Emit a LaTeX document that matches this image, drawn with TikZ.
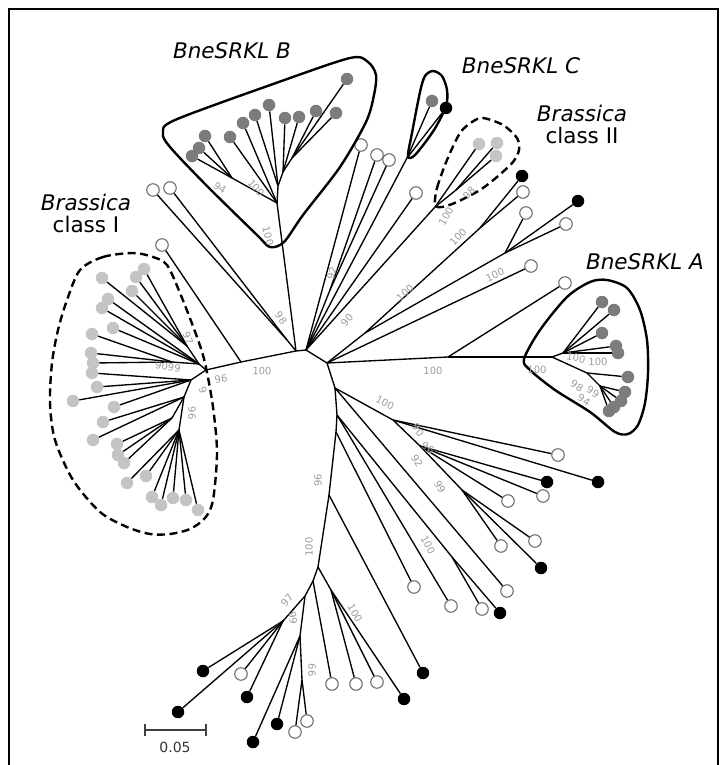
\documentclass[tikz,border=0pt]{standalone}
\usepackage{fontspec}
\setmainfont{DejaVu Sans}
\usetikzlibrary{positioning}
\definecolor{darkdot}{HTML}{7C7C7C}
\definecolor{lightdot}{HTML}{C4C4C4}
\definecolor{bootgray}{HTML}{9C9C9C}
\definecolor{ringgray}{HTML}{707070}
\tikzset{
  branch/.style={line width=1.35pt},
  tip/.style={circle,inner sep=0pt,minimum size=12.5pt},
  opentip/.style={tip,draw=ringgray,line width=1.1pt,fill=white},
  blacktip/.style={tip,fill=black},
  darktip/.style={tip,fill=darkdot},
  lighttip/.style={tip,fill=lightdot},
  boot/.style={text=bootgray,inner sep=0pt,font=\fontsize{10}{10}\selectfont},
  hull/.style={line width=2.4pt,line join=round},
  dashhull/.style={hull,dash pattern=on 8pt off 4.5pt},
  cladename/.style={inner sep=0pt,font=\fontsize{21.5}{24}\selectfont\itshape},
  classname/.style={inner sep=0pt,font=\fontsize{21.5}{24}\selectfont},
}
\begin{document}
\begin{tikzpicture}[x=1pt,y=-1pt]
\useasboundingbox (0,0) rectangle (721,765);
\draw[line width=1.4pt] (9,767) -- (9,9) -- (718,9) -- (718,767);

% internal nodes
\foreach \n/\x/\y in {cA/296/351, cB/306/350, cC/327/363, lb/241/362, k1/287/340,
  bB1/277/203, bB2/232/178, bB3/278/186, bB4/283/172, bB5/292/158,
  I0/206/370, Iu/199/364, Iu1/187/346, Iu2/172/362, Im/191/380, Il/184/397,
  Il1/172/418, Il2/179/430,
  h1/448/357, h2/552/357, a1/563/353, a2/587/373, a3/600/386,
  f1/330/290, cN/407/158, II0/435/207, II1/456/190, gA/365/333, g1/480/228, g2/505/253,
  t1/335/388, t3/337/415, t4/336/432, t5/329/495, t6/318/567,
  n2/393/420, n3/420/446, n5/462/490, n6/452/557,
  u1/313/581, u2/305/596, u3/283/621, u4/300/636, u5/302/680, u6/331/590}
  \coordinate (\n) at (\x,\y);

% tips
\foreach \n/\x/\y in {o1/153/190, o2/170/188, o3/162/245, p1/361/145, p2/377/155,
  p3/389/160, p4/416/193, w2/523/192, w3/526/213, w5/566/224, w6/531/266, w7/565/283,
  r1/558/455, r4/543/496, r5/508/501, r6/535/541, r7/501/546, r9/507/591, r10/482/609,
  r12/451/606, r13/414/587, v3/241/674, v7/295/732, v8/307/721, v9/332/684,
  v10/356/684, v11/377/682}
  \node[opentip] (\n) at (\x,\y) {};
\foreach \n/\x/\y in {cb/446/108, w1/522/176, w4/578/201, r2/598/482, r3/547/482,
  r8/541/568, r11/500/613, s1/423/673, v1/203/671, v2/178/712, v4/247/697,
  v5/253/742, v6/277/724, v12/404/699}
  \node[blacktip] (\n) at (\x,\y) {};
\foreach \n/\x/\y in {b1/192/156, b2/199/148, b3/205/136, b4/230/137, b5/243/123,
  b6/255/115, b7/269/105, b8/285/118, b9/299/117, b10/316/111, b11/336/113,
  b12/347/79, cd/432/101,
  d1/602/302, d2/614/310, d3/602/333, d5/618/353, d4/616/346, d6/628/377,
  d7/625/392, d8/621/401, d9/614/407, d10/609/411}
  \node[darktip] (\n) at (\x,\y) {};
\foreach \n/\x/\y in {i1/102/278, i2/144/269, i3/136/277, i4/132/291, i5/108/299,
  i6/102/308, i7/113/328, i8/92/334, i9/91/353, i10/93/363, i11/92/373, i12/97/387,
  i13/73/401, i14/114/407, i15/103/422, i16/93/440, i17/117/444, i18/118/455,
  i19/124/463, i20/127/483, i21/146/476, i22/152/497, i23/161/505, i24/173/498,
  i25/186/500, i26/198/510, l1/479/144, l2/497/143, l3/496/156}
  \node[lighttip] (\n) at (\x,\y) {};

% branches
\foreach \a/\b in {cA/cB, cB/cC, cA/lb, lb/I0, lb/o3, cA/k1, k1/o1, k1/o2,
  cA/bB1, bB1/bB2, bB1/b4, bB1/b5, bB1/bB3, bB2/b1, bB2/b2, bB2/b3,
  bB3/b6, bB3/b7, bB3/bB4, bB4/b8, bB4/b9, bB4/bB5, bB5/b10, bB5/b11, bB5/b12,
  I0/Iu, I0/Im, Iu/Iu1, Iu/Iu2, Iu/i5, Iu/i6, Iu/i7, Iu1/i1, Iu1/i2, Iu1/i3, Iu1/i4,
  Iu2/i8, Iu2/i9, Iu2/i10, Im/i11, Im/i12, Im/i13, Im/i14, Im/Il,
  Il/i15, Il/i16, Il/Il1, Il/Il2, Il1/i17, Il1/i18, Il1/i19,
  Il2/i20, Il2/i21, Il2/i22, Il2/i23, Il2/i24, Il2/i25, Il2/i26,
  cC/h1, h1/h2, h1/w7, h2/a1, h2/a2, a1/d1, a1/d2, a1/d3, a1/d4, a1/d5,
  a2/d6, a2/a3, a3/d7, a3/d8, a3/d9, a3/d10,
  cB/p1, cB/f1, f1/p2, f1/p3, cB/cN, cN/cd, cN/cb, cB/p4, cB/II0,
  II0/l1, II0/II1, II1/l2, II1/l3,
  cC/gA, gA/g1, gA/g2, g1/w1, g1/w2, g2/w3, g2/w4, g2/w5, cC/w6,
  cC/t1, t1/t3, t3/t4, t4/t5, t5/t6,
  t1/n2, n2/r1, n2/r2, n2/n3, n3/r3, n3/r4, n3/r5, n3/n5, n5/r6, n5/r7, n5/r8,
  t1/r9, t3/n6, n6/r10, n6/r11, t3/r12, t4/r13, t5/s1,
  t6/u1, u1/u2, u2/u3, u2/u4, u4/u5, u1/v9, t6/u6, u6/v10, u6/v11, u6/v12,
  u3/v1, u3/v2, u3/v3, u3/v4, u4/v5, u4/v6, u5/v7, u5/v8}
  \draw[branch] (\a) -- (\b);

% clade outlines
\draw[hull] plot[smooth cycle,tension=0.5] coordinates {(163,133) (175,120) (276,83)
  (350,58) (368,62) (376,75) (374,95) (366,122) (340,167) (303,215) (284,242)
  (270,247) (257,235) (207,186) (170,147)};
\draw[hull] plot[smooth cycle,tension=0.5] coordinates {(408,156) (412,133) (420,92)
  (425,76) (433,71) (442,76) (447,90) (446,106) (434,130) (415,155)};
\draw[dashhull] plot[smooth cycle,tension=0.5] coordinates {(435,205) (437,188)
  (447,160) (460,133) (472,122) (483,118) (503,125) (517,138) (519,150) (513,162)
  (497,177) (480,190) (457,202) (442,207)};
\draw[dashhull] plot[smooth cycle,tension=0.5] coordinates {(80,270) (103,257)
  (133,253) (153,257) (167,265) (180,293) (197,337) (205,363) (213,407) (217,453)
  (213,500) (205,518) (190,529) (170,534) (150,534) (127,527) (100,512) (73,480)
  (55,440) (50,403) (52,363) (58,330) (67,300)};
\draw[hull] plot[smooth cycle,tension=0.5] coordinates {(524,359) (540,330) (567,297)
  (590,282) (607,280) (627,288) (640,310) (647,340) (648,373) (645,403) (638,425)
  (628,434) (615,432) (590,412) (555,390) (530,370)};

% bootstrap values
\foreach \x/\y/\r/\t [count=\k] in {262/371/-3/100, 281/318/-55/98, 268/236/-75/100,
  220/188/-35/94, 256/188/-50/100, 188/338/-70/97, 168/367/-8/9099, 221/379/8/96,
  203/390/-70/9, 192/413/-90/96, 433/371/0/100, 537/370/0/100, 576/358/-12/100,
  598/362/0/100, 577/386/-30/98, 593/392/-30/99, 584/400/-30/94,
  332/273/72/92, 347/320/50/90, 405/293/42/100, 458/237/45/100, 495/275/25/100,
  446/216/60/100, 469/193/45/98,
  385/403/-28/100, 418/430/-55/90, 428/448/-30/96, 417/461/-60/92, 440/487/-60/99,
  428/545/-62/100, 318/480/90/96, 309/547/90/100,
  287/600/50/97, 293/618/-80/99, 312/670/-90/66, 355/613/-60/100}
  \node[boot,rotate=\r] (bs\k) at (\x,\y) {\t};

% clade names
\node[cladename] (nameB) at (232,51) {BneSRKL B};
\node[cladename] (nameC) at (521,66) {BneSRKL C};
\node[cladename] (nameA) at (645,262) {BneSRKL A};
\node[cladename] (nameII) at (582,113) {Brassica};
\node[classname, below=5pt of nameII] (classII) {class II};
\node[cladename] (nameI) at (86,202) {Brassica};
\node[classname, below=5pt of nameI] (classI) {class I};

% scale bar
\coordinate (sbL) at (145,730);
\coordinate (sbR) at (206,730);
\draw[line width=1.6pt,black!75] (sbL) -- (sbR);
\draw[line width=1.6pt,black!75] ([yshift=-6pt]sbL) -- ([yshift=6pt]sbL);
\draw[line width=1.6pt,black!75] ([yshift=-6pt]sbR) -- ([yshift=6pt]sbR);
\node[inner sep=0pt,font=\fontsize{14}{14}\selectfont,text=black!80] (sbtext) at (175,747) {0.05};
\end{tikzpicture}
\end{document}
